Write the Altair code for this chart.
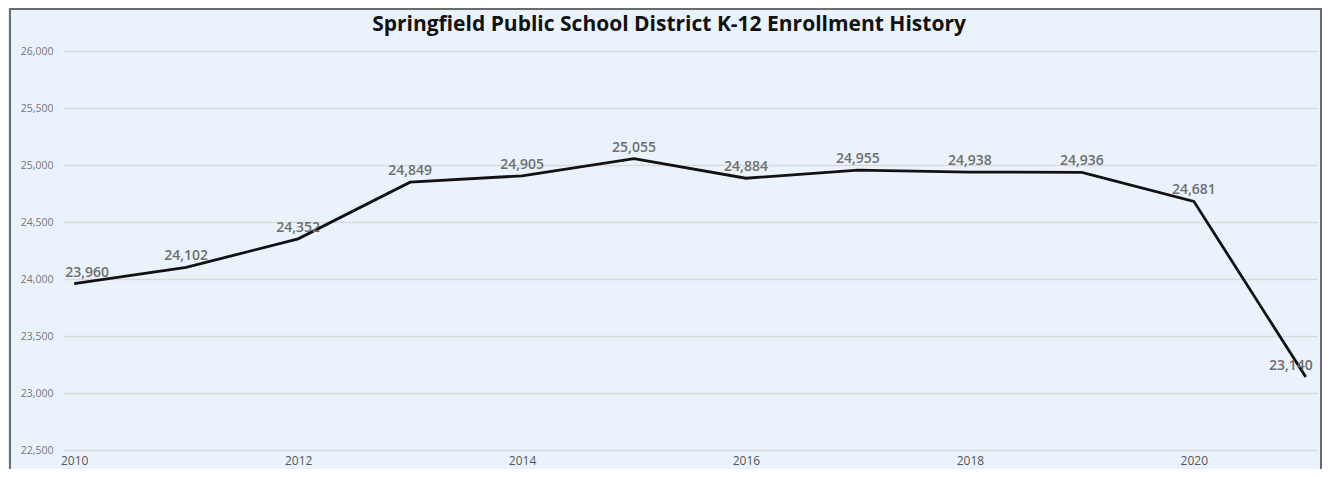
import altair as alt
import pandas as pd

years = [2010, 2011, 2012, 2013, 2014, 2015, 2016, 2017, 2018, 2019, 2020, 2021]
enrollment = [23960, 24102, 24352, 24849, 24905, 25055, 24884, 24955, 24938, 24936, 24681, 23140]
x_ticks = [2010, 2012, 2014, 2016, 2018, 2020]
y_ticks = [22500, 23000, 23500, 24000, 24500, 25000, 25500, 26000]
title_text = "Springfield Public School District K-12 Enrollment History"

df = pd.DataFrame({"year": years, "enrollment": enrollment})
n = len(years)
df["pos"] = ["first"] + ["mid"] * (n - 2) + ["last"]

FONT = "Open Sans"
W, H = 1254, 399

x = alt.X("year:Q", scale=alt.Scale(domain=[2009.9, 2021.1], nice=False, zero=False),
          axis=alt.Axis(values=x_ticks, format="d", title=None, grid=False, ticks=False,
                        domain=False, labelFont=FONT, labelFontSize=12, labelColor="#555555",
                        labelPadding=5))
y = alt.Y("enrollment:Q", scale=alt.Scale(domain=[22500, 26000], nice=False, zero=False),
          axis=alt.Axis(values=y_ticks, format=",.0f", title=None, grid=True, gridColor="#d9d9d9",
                        gridWidth=1.5, ticks=False, domain=False, labelFont=FONT,
                        labelFontSize=10.5, labelColor="#777777", labelPadding=10))

base = alt.Chart(df)

line = base.mark_line(color="#111111", strokeWidth=2.8).encode(x=x, y=y)

lbl_common = dict(font=FONT, fontSize=14, fontWeight=600, color="#6f6f6f", baseline="bottom", dy=-4)
txt = alt.Text("enrollment:Q", format=",.0f")
lbl_mid = base.transform_filter(alt.datum.pos == "mid").mark_text(align="center", **lbl_common).encode(
    x=x, y=y, text=txt)
lbl_first = base.transform_filter(alt.datum.pos == "first").mark_text(align="left", dx=-9, **lbl_common).encode(
    x=x, y=y, text=txt)
lbl_last = base.transform_filter(alt.datum.pos == "last").mark_text(align="right", dx=7, **lbl_common).encode(
    x=x, y=y, text=txt)

border = alt.Chart(pd.DataFrame({"k": [0]})).mark_rect(
    fill=None, stroke="#6b6b6b", strokeWidth=2).encode(
    x=alt.value(-53), x2=alt.value(1258), y=alt.value(-42), y2=alt.value(H + 60))

title = alt.Chart(pd.DataFrame({"t": [title_text]})).mark_text(
    font=FONT, fontSize=21, fontWeight="bold", color="#111111", align="center", baseline="middle").encode(
    text="t:N", x=alt.value(606), y=alt.value(-26))

chart = alt.layer(line, lbl_mid, lbl_first, lbl_last, title, border).properties(
    width=W, height=H,
    padding={"left": 55, "top": 43, "right": 5, "bottom": 19},
    autosize=alt.AutoSizeParams(type="none"),
    background="#eaf3fb",
).configure_view(stroke=None)

chart.save("out.html", embed_options={"renderer": "svg", "actions": False})
